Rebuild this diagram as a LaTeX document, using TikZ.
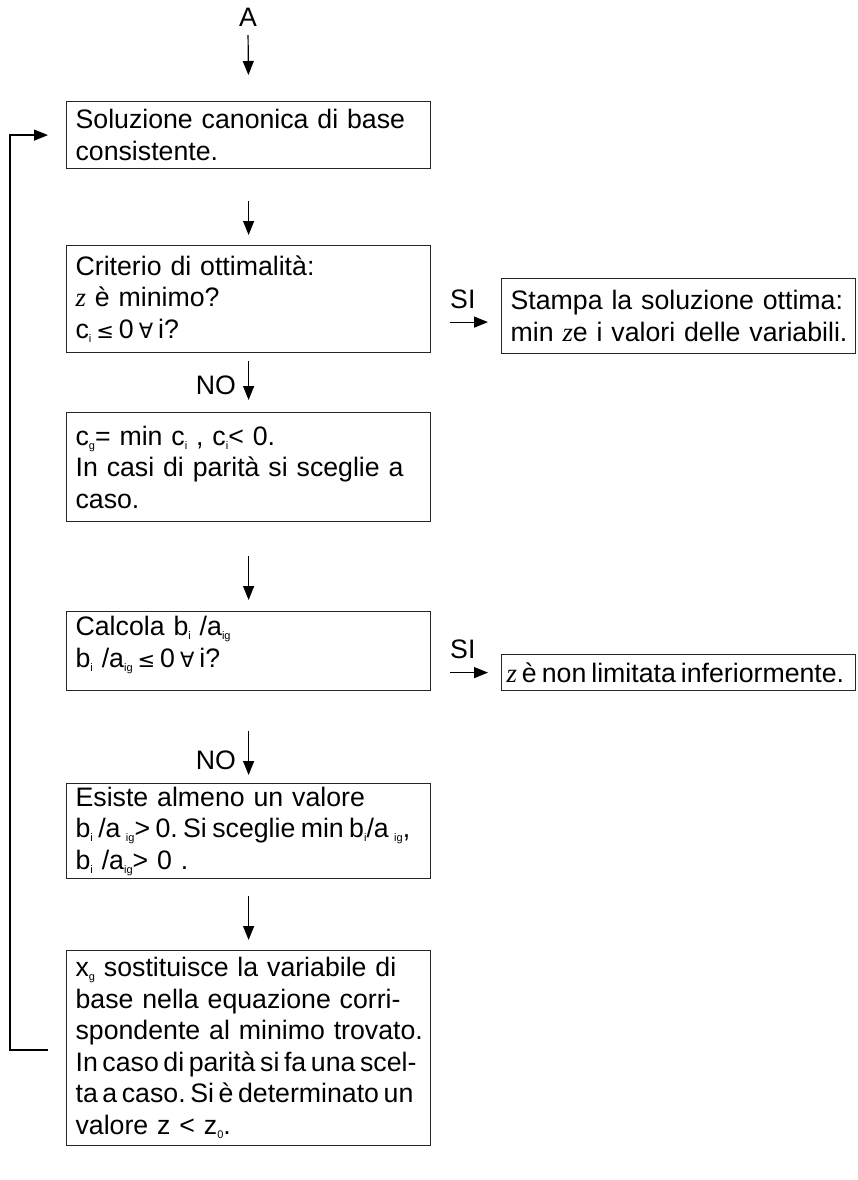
\documentclass[tikz,border=0pt]{standalone}
\usepackage{fontspec}
\setmainfont{Liberation Sans}
\newfontfamily\zfont{Liberation Serif}
\newfontfamily\symf{DejaVu Sans}
\usetikzlibrary{arrows.meta}
\frenchspacing
\newcommand\sbs[1]{\raisebox{-4pt}{\fontsize{11}{11}\selectfont #1}}
\newcommand\zz{{\zfont\itshape z}}
\newcommand\sym[1]{{\symf\fontsize{21}{21}\selectfont #1}}
\newcommand\Lm[1]{\mbox{#1}}
\newcommand\Lt[1]{\mbox{\spaceskip=4.6pt\relax #1}}
\newcommand\gp{\hspace{5pt}}
\begin{document}
\begin{tikzpicture}[x=1pt,y=-1pt,
  every node/.style={font=\fontsize{26.7}{31.5}\selectfont},
  box/.style={draw=black!85,line width=1.2pt,anchor=north west,align=left,
    text width=346pt,inner xsep=9pt,inner ysep=3pt,minimum width=364pt},
  rbox/.style={draw=black!85,line width=1.2pt,anchor=north west,align=left,
    text width=336pt,inner xsep=9pt,inner ysep=1pt,minimum width=354pt},
  arr/.style={-{Triangle[length=14pt,width=11pt]},line width=1.2pt},
  lbl/.style={inner sep=0pt}]
\useasboundingbox (0,0) rectangle (857,1180);

\node[lbl,anchor=base] (A) at (248,27) {A};

\node[box,minimum height=67pt] (b1) at (66,101)
  {\Lm{Soluzione canonica di base}\\\Lm{consistente.}};
\node[box,minimum height=107pt] (b2) at (66,245)
  {\Lm{Criterio di ottimalità:}\\\Lm{\zz{} è minimo?}\\\Lm{c\sbs{i}\gp\sym{≤}\gp0\gp\sym{∀}\gp i?}};
\node[box,minimum height=109pt] (b3) at (66,412)
  {\Lm{c\sbs{g}= min c\sbs{i} , c\sbs{i}< 0.}\\\Lm{In casi di parità si sceglie a}\\\Lm{caso.}};
\node[box,minimum height=79pt] (b4) at (66,611)
  {\Lm{Calcola b\sbs{i} /a\sbs{ig}}\\\Lm{b\sbs{i} /a\sbs{ig}\gp\sym{≤}\gp0\gp\sym{∀}\gp i?}\\[-13pt]\mbox{}};
\node[box,minimum height=95pt] (b5) at (66,783)
  {\Lm{Esiste almeno un valore}\\\mbox{\spaceskip=5.4pt\relax b\sbs{i} /a \sbs{ig}> 0. Si sceglie min b\sbs{i}/a \sbs{ig},}\\\Lm{b\sbs{i} /a\sbs{ig}> 0 .}};
\node[box,minimum height=195pt] (b6) at (66,950)
  {\Lm{x\sbs{g} sostituisce la variabile di}\\\Lm{base nella equazione corri-}\\\Lm{spondente al minimo trovato.}\\\Lt{In caso di parità si fa una scel-}\\\Lt{ta a caso. Si è determinato un}\\\Lm{valore z < z\sbs{0}.}};

\node[rbox,minimum height=75pt] (r1) at (501,278)
  {\Lm{Stampa la soluzione ottima:}\\\Lm{min \zz e i valori delle variabili.}};
\node[rbox,minimum height=36pt,inner xsep=5pt,text width=344pt] (r2) at (501,654)
  {\mbox{\spaceskip=5pt\relax\zz{} è non limitata inferiormente.}};

% vertical flow
\draw[arr,shorten <=8pt,shorten >=26pt] (A.south) -- (b1.north);
\draw[arr,shorten <=32pt,shorten >=10pt] (b1.south) -- (b2.north);
\draw[arr,shorten <=8pt,shorten >=12pt] (b2.south) -- (b3.north);
\draw[arr,shorten <=34pt,shorten >=11pt] (b3.south) -- (b4.north);
\draw[arr,shorten <=40pt,shorten >=8pt] (b4.south) -- (b5.north);
\draw[arr,shorten <=17pt,shorten >=10pt] (b5.south) -- (b6.north);

\node[lbl,anchor=base east] (no1) at (236,394) {NO};
\node[lbl,anchor=base east] (no2) at (236,769) {NO};

% SI branches
\coordinate (e1) at ([yshift=-6pt]r1.west);
\coordinate (s1) at ([xshift=-51pt]e1);
\draw[arr,shorten >=13pt] (s1) -- (e1);
\node[lbl,anchor=base west] (si1) at ([yshift=14pt]s1) {SI};
\coordinate (s2) at ([xshift=-51pt]r2.west);
\draw[arr,shorten >=13pt] (s2) -- (r2.west);
\node[lbl,anchor=base west] (si2) at ([yshift=14pt]s2) {SI};

% feedback loop
\coordinate (fbs) at ([xshift=-18pt]b6.west |- 0,1050);
\coordinate (fbe) at ([xshift=-18pt]b1.west);
\draw[arr] (fbs) -- (10,1050) |- (fbe);
\end{tikzpicture}
\end{document}
